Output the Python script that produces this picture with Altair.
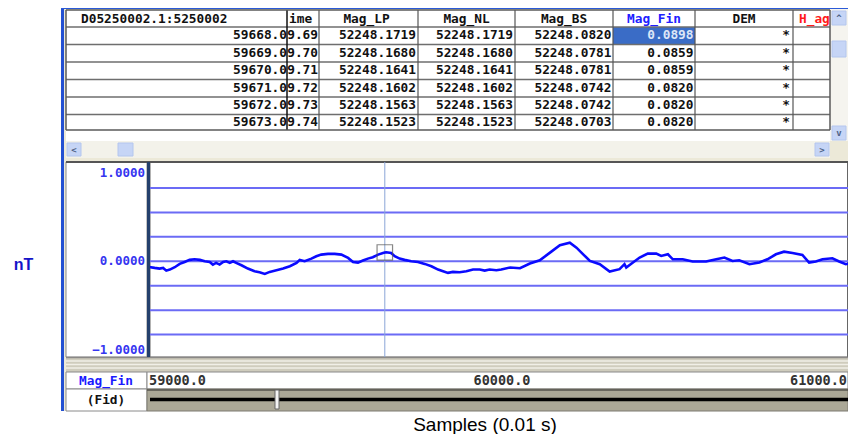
import altair as alt
import pandas as pd

# ------------------------------------------------------------------ data
# Mag_Fin profile (nT) against fiducial / sample number
samples = [59000, 59016, 59030, 59040, 59049, 59059, 59073, 59087, 59101, 59115,
           59129, 59144, 59158, 59172, 59181, 59190, 59200, 59210, 59219, 59229,
           59238, 59247, 59262, 59280, 59299, 59313, 59328, 59342, 59361, 59380,
           59399, 59418, 59427, 59441, 59460, 59474, 59488, 59507, 59526, 59545,
           59564, 59578, 59592, 59606, 59620, 59634, 59649, 59663, 59668, 59672,
           59686, 59696, 59710, 59724, 59743, 59762, 59781, 59800, 59819, 59833,
           59847, 59861, 59880, 59899, 59918, 59937, 59951, 59965, 59984, 59998,
           60023, 60051, 60079, 60107, 60136, 60164, 60192, 60211, 60230, 60249,
           60277, 60305, 60333, 60347, 60352, 60371, 60390, 60413, 60437, 60451,
           60470, 60484, 60512, 60540, 60578, 60607, 60630, 60653, 60672, 60701,
           60729, 60752, 60776, 60799, 60823, 60851, 60870, 60889, 60908, 60936,
           60955, 60974, 61000]
mag_fin = [-0.058, -0.068, -0.075, -0.068, -0.096, -0.085, -0.061, -0.027, -0.007, 0.014,
           0.020, 0.014, 0.000, -0.007, -0.034, -0.017, -0.034, -0.007, 0.000, -0.017,
           0.000, -0.017, -0.041, -0.075, -0.102, -0.113, -0.130, -0.109, -0.092, -0.075,
           -0.051, -0.017, 0.014, 0.000, 0.027, 0.051, 0.068, 0.075, 0.075, 0.068,
           0.034, -0.007, -0.014, 0.007, 0.027, 0.041, 0.068, 0.085, 0.0898, 0.092,
           0.085, 0.051, 0.027, 0.014, 0.000, -0.007, -0.027, -0.051, -0.085, -0.102,
           -0.119, -0.109, -0.113, -0.102, -0.085, -0.085, -0.096, -0.085, -0.092, -0.085,
           -0.064, -0.071, -0.023, 0.010, 0.088, 0.165, 0.190, 0.139, 0.071, 0.003,
           -0.030, -0.105, -0.081, -0.030, -0.064, -0.013, 0.038, 0.078, 0.078, 0.054,
           0.071, 0.020, 0.020, -0.003, -0.003, 0.020, 0.038, 0.003, 0.010, -0.030,
           -0.013, 0.020, 0.071, 0.098, 0.084, 0.064, -0.013, -0.003, 0.020, 0.030,
           -0.003, -0.030, -0.013]

y_tick_values = [1.0, 0.0, -1.0]
y_grid_values = [0.75, 0.5, 0.25, 0.0, -0.25, -0.5, -0.75]
x_tick_values = [59000, 60000, 61000]
cursor_fid = 59668
cursor_value = 0.0898

# spreadsheet
table_header = ["D05250002.1:5250002", "ime", "Mag_LP", "Mag_NL", "Mag_BS", "Mag_Fin", "DEM", "H_ag"]
col_fid = ["59668.0", "59669.0", "59670.0", "59671.0", "59672.0", "59673.0"]
col_time = ["9.69", "9.70", "9.71", "9.72", "9.73", "9.74"]
col_mag_lp = ["52248.1719", "52248.1680", "52248.1641", "52248.1602", "52248.1563", "52248.1523"]
col_mag_nl = ["52248.1719", "52248.1680", "52248.1641", "52248.1602", "52248.1563", "52248.1523"]
col_mag_bs = ["52248.0820", "52248.0781", "52248.0781", "52248.0742", "52248.0742", "52248.0703"]
col_mag_fin = ["0.0898", "0.0859", "0.0859", "0.0820", "0.0820", "0.0820"]
col_dem = ["*", "*", "*", "*", "*", "*"]

y_unit = "nT"
x_title = "Samples (0.01 s)"
channel_label = "Mag_Fin"
fid_label = "(Fid)"

# ------------------------------------------------------------------ layout (page pixels)
W, H = 840, 426
R = 848  # right edge of the drawable page
COL_EDGES = [66, 287, 319, 418, 515, 613, 695, 793, 830]
ROW_EDGES = [10, 27, 44.5, 62, 79.5, 97, 114.5, 130]
MONO = "DejaVu Sans Mono"
SANS = "Liberation Sans"


def PX():
    return alt.Scale(domain=[8, 8 + W], range=[0, W], nice=False, zero=False)


def PY():
    return alt.Scale(domain=[8, 8 + H], range=[0, H], nice=False, zero=False)


def rect_layer(rows):
    df = pd.DataFrame(rows, columns=["x", "x2", "y", "y2", "fill", "stroke", "sw"])
    return alt.Chart(df).mark_rect().encode(
        x=alt.X("x:Q", scale=PX(), axis=None), x2="x2:Q",
        y=alt.Y("y:Q", scale=PY(), axis=None), y2="y2:Q",
        fill=alt.Fill("fill:N", scale=None),
        stroke=alt.Stroke("stroke:N", scale=None),
        strokeWidth=alt.StrokeWidth("sw:Q", scale=None),
    )


def rule_layer(rows):
    df = pd.DataFrame(rows, columns=["x", "x2", "y", "y2", "c", "sw"])
    return alt.Chart(df).mark_rule().encode(
        x=alt.X("x:Q", scale=PX(), axis=None), x2="x2:Q",
        y=alt.Y("y:Q", scale=PY(), axis=None), y2="y2:Q",
        color=alt.Color("c:N", scale=None),
        strokeWidth=alt.StrokeWidth("sw:Q", scale=None),
    )


def text_layer(rows, align="left", font=MONO, size=12.8, weight="bold"):
    df = pd.DataFrame(rows, columns=["x", "y", "t", "c"])
    return alt.Chart(df).mark_text(align=align, baseline="middle", font=font,
                                   fontSize=size, fontWeight=weight).encode(
        x=alt.X("x:Q", scale=PX(), axis=None),
        y=alt.Y("y:Q", scale=PY(), axis=None),
        text="t:N",
        color=alt.Color("c:N", scale=None),
    )


# ------------------------------------------------------------------ decoration (behind)
T = "transparent"
BTN, BTN_S = "#c6d5f6", "#b4c6ee"
back_rects = [
    (64, R, 9, 411, "#ece9d8", T, 0),
    (61, 64, 8, 411, "#2350d2", T, 0),
    (61, R, 8, 9, "#2b5ad8", T, 0),
    (66, 830, 10, 141, "#ffffff", T, 0),
    (613, 695, ROW_EDGES[1], ROW_EDGES[2], "#3a6cc6", T, 0),
    (830, R, 9, 141, "#f5f4ef", T, 0),
    (832, 846, 11, 25, BTN, BTN_S, 1),
    (832, 846, 41, 57, BTN, BTN_S, 1),
    (832, 846, 126, 140, BTN, BTN_S, 1),
    (66, 830, 141, 158, "#f3f2ea", T, 0),
    (67, 81, 143, 156, BTN, BTN_S, 1),
    (118, 133, 143, 156, BTN, BTN_S, 1),
    (815, 829, 143, 156, BTN, BTN_S, 1),
    (830, R, 141, 158, "#ece9d8", T, 0),
    (66, 147, 162, 357, "#ffffff", "#8a8a8a", 1),
    (150, 847.5, 162, 357, "#ffffff", "#666666", 1),
    (66, R, 357, 372, "#cfccbd", T, 0),
    (66, 147, 372, 389, "#ffffff", "#8a8a8a", 1),
    (147, R, 372, 389, "#ffffff", "#8a8a8a", 1),
    (66, 147, 389, 411, "#ffffff", "#8a8a8a", 1),
    (147, R, 389, 411, "#aba897", "#7d7b70", 1),
]

table_rules = []
for yv in ROW_EDGES[1:-1]:
    table_rules.append((66, 830, yv, yv, "#6e6e6e", 1.3))
for i, xv in enumerate(COL_EDGES[1:-1]):
    table_rules.append((xv, xv, 10, 130, "#111111" if i == 0 else "#555555", 1.5 if i == 0 else 1.2))
table_rules += [
    (66, 830, 130, 130, "#5a5a5a", 1.5),
    (66, 830, 10, 10, "#5a5a5a", 1.5),
    (66, 66, 10, 130, "#5a5a5a", 1.5),
    (830, 830, 10, 130, "#5a5a5a", 1.5),
    (66, R, 162, 162, "#555555", 2),
    (66, R, 357.5, 357.5, "#8a8886", 1.5),
    (66, R, 361, 361, "#f1efe7", 1.5),
    (66, R, 364.5, 364.5, "#f1efe7", 1.5),
    (66, R, 368, 368, "#f1efe7", 1.5),
    (150, R, 399.5, 399.5, "#000000", 3.5),
    (147, R, 390, 390, "#55534c", 1.5),
]

# table texts
hdr_y = (ROW_EDGES[0] + ROW_EDGES[1]) / 2
centers = [(COL_EDGES[i] + COL_EDGES[i + 1]) / 2 for i in range(len(COL_EDGES) - 1)]
hdr_left = [(81, hdr_y, table_header[0], "#111111"),
            (289, hdr_y, table_header[1], "#111111"),
            (799, hdr_y, table_header[7], "#ff1a1a")]
hdr_center = [(centers[2] - 2, hdr_y, table_header[2], "#111111"),
              (centers[3], hdr_y, table_header[3], "#111111"),
              (centers[4], hdr_y, table_header[4], "#111111"),
              (centers[5], hdr_y, table_header[5], "#2020ff"),
              (centers[6], hdr_y, table_header[6], "#111111")]
cell_rows = []
right_edges = [287, 318, 416, 513, 611.5, 693.5, 790]
cols = [col_fid, col_time, col_mag_lp, col_mag_nl, col_mag_bs, col_mag_fin, col_dem]
for r in range(6):
    yc = (ROW_EDGES[r + 1] + ROW_EDGES[r + 2]) / 2 - 0.5
    for c, col in enumerate(cols):
        colr = "#dde6f7" if (r == 0 and c == 5) else "#111111"
        cell_rows.append((right_edges[c], yc, col[r], colr))

glyphs = [(74, 149.5, "<", "#4d6185"), (822, 149.5, ">", "#4d6185"),
          (839, 18, "^", "#4d6185"), (839, 133, "v", "#4d6185")]

decor_back = alt.layer(
    rect_layer(back_rects),
    rule_layer(table_rules),
    text_layer(hdr_left, "left"),
    text_layer(hdr_center, "center"),
    text_layer(cell_rows, "right"),
    text_layer(glyphs, "center", size=9),
    text_layer([(106, 380.5, channel_label, "#1a1aff")], "center"),
    text_layer([(106, 400, fid_label, "#111111")], "center"),
    text_layer([(23.5, 265, y_unit, "#1414c8")], "center", font=SANS, size=16),
    text_layer([(485, 424.5, x_title, "#000000")], "center", font=SANS, size=19, weight="normal"),
)

# ------------------------------------------------------------------ plot
SX = alt.Scale(domain=[59000, 61000], range=[141, 847], nice=False, zero=False)
SY = alt.Scale(domain=[-1, 1], range=[351, 155.5], nice=False, zero=False)

prof = pd.DataFrame({"fid": samples, "v": mag_fin})
grid_df = pd.DataFrame({"v": y_grid_values})
ytk = pd.DataFrame({"v": y_tick_values})
xtk = pd.DataFrame({"fid": x_tick_values})
cur = pd.DataFrame({"fid": [cursor_fid], "v": [cursor_value]})

grid = alt.Chart(grid_df).mark_rule(color="#6b6bf5", strokeWidth=2).encode(
    y=alt.Y("v:Q", scale=SY, axis=None), x=alt.value(142), x2=alt.value(840))
cursor = alt.Chart(cur).mark_rule(color="#8aa6d8", strokeWidth=1).encode(
    x=alt.X("fid:Q", scale=SX, axis=None), y=alt.value(154), y2=alt.value(349))
line = alt.Chart(prof).mark_line(color="#0a0aff", strokeWidth=2.6).encode(
    x=alt.X("fid:Q", scale=SX, axis=None), y=alt.Y("v:Q", scale=SY, axis=None))
marker = alt.Chart(cur).mark_point(shape="square", filled=False, size=240,
                                   color="#555555", strokeWidth=1.2).encode(
    x=alt.X("fid:Q", scale=SX, axis=None), y=alt.Y("v:Q", scale=SY, axis=None))


def ylab(baseline, dy, cond):
    return alt.Chart(ytk).transform_filter(cond).mark_text(
        align="right", baseline=baseline, dy=dy, font=MONO, fontSize=12.5,
        fontWeight="bold", color="#3535f0").encode(
        x=alt.value(137), y=alt.Y("v:Q", scale=SY, axis=None),
        text=alt.Text("v:Q", format=".4f"))


def xlab(align, cond, dx=0):
    return alt.Chart(xtk).transform_filter(cond).mark_text(
        align=align, baseline="middle", dx=dx, font=MONO, fontSize=13.5,
        fontWeight="bold", color="#333333").encode(
        x=alt.X("fid:Q", scale=SX, axis=None), y=alt.value(372.5),
        text=alt.Text("fid:Q", format=".1f"))


plot = alt.layer(
    grid, cursor, line, marker,
    ylab("top", 3, "datum.v > 0.5"),
    ylab("middle", 0, "abs(datum.v) < 0.5"),
    ylab("bottom", -2, "datum.v < -0.5"),
    xlab("left", "datum.fid < 59500"),
    xlab("center", "datum.fid > 59500 && datum.fid < 60500"),
    xlab("right", "datum.fid > 60500", dx=-8),
)

decor_front = alt.layer(
    rect_layer([(147, 150, 162, 357, "#24406c", T, 0),
                (275, 279, 390, 409, "#f4f4f4", "#666666", 1)]),
)

chart = alt.layer(decor_back, plot, decor_front).resolve_scale(
    x="independent", y="independent", color="independent"
).properties(
    width=W, height=H, padding=0, autosize=alt.AutoSizeParams(type="none")
).configure_view(stroke=None)

chart.save("out.html", embed_options={"renderer": "svg", "actions": False})
